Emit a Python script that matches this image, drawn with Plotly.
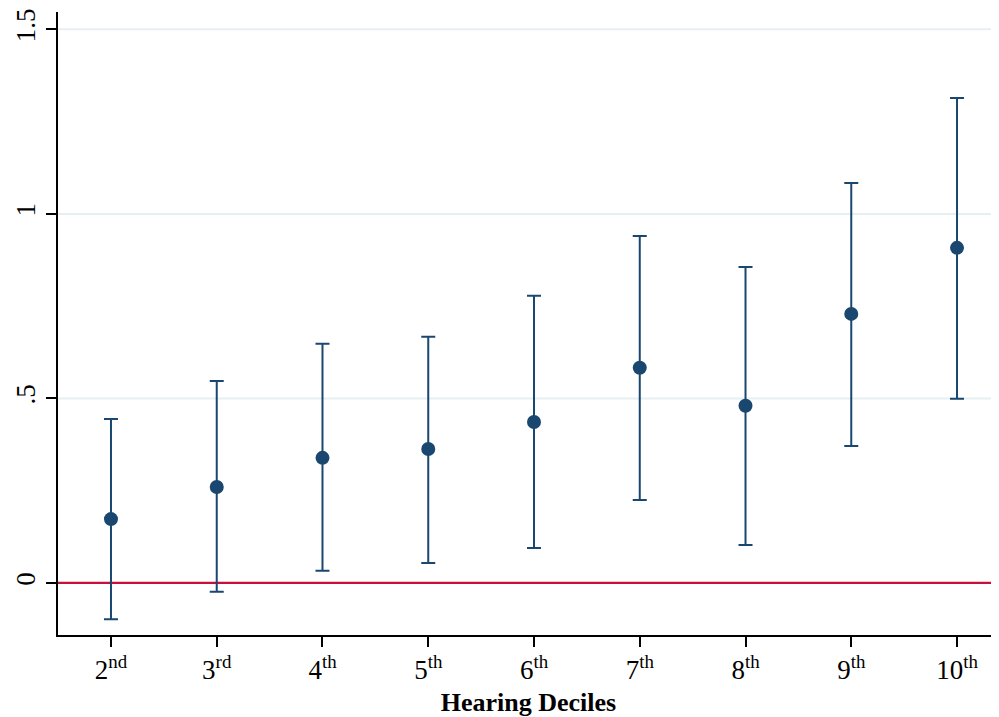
import plotly.graph_objects as go

# Data
deciles = [2, 3, 4, 5, 6, 7, 8, 9, 10]
tick_labels = ["2<sup>nd</sup>", "3<sup>rd</sup>", "4<sup>th</sup>", "5<sup>th</sup>",
               "6<sup>th</sup>", "7<sup>th</sup>", "8<sup>th</sup>", "9<sup>th</sup>",
               "10<sup>th</sup>"]
estimate = [0.173, 0.260, 0.339, 0.363, 0.436, 0.583, 0.480, 0.729, 0.908]
upper = [0.444, 0.547, 0.648, 0.667, 0.778, 0.940, 0.856, 1.084, 1.314]
lower = [-0.098, -0.024, 0.033, 0.054, 0.095, 0.225, 0.103, 0.371, 0.499]
y_ticks = [0, 0.5, 1, 1.5]
y_tick_labels = ["0", ".5", "1", "1.5"]

navy = "#1a476f"
fig = go.Figure()

# light gridlines (drawn as shapes so the red zero line can sit above them)
for yv in y_ticks[1:]:
    fig.add_hline(y=yv, line=dict(color="#e6eff1", width=2), layer="below")
fig.add_hline(y=0, line=dict(color="#c8103f", width=2.2), layer="below")

fig.add_trace(go.Scatter(
    x=deciles, y=estimate, mode="markers",
    marker=dict(color=navy, size=14),
    error_y=dict(type="data", symmetric=False,
                 array=[u - e for u, e in zip(upper, estimate)],
                 arrayminus=[e - l for e, l in zip(estimate, lower)],
                 color=navy, thickness=2, width=7),
    showlegend=False,
))

font_family = "Liberation Serif, Times New Roman, serif"
# page body has an 8px default margin; figure size/margins compensate for it
fig.update_layout(
    width=991, height=709,
    margin=dict(l=50, r=0, t=4, b=82),
    paper_bgcolor="white", plot_bgcolor="white",
    font=dict(family=font_family, color="black", size=27),
    xaxis=dict(
        range=[1.499, 10.397], tickvals=deciles, ticktext=tick_labels,
        showgrid=False, zeroline=False, automargin=False,
        showline=True, linecolor="black", linewidth=2,
        ticks="outside", ticklen=10, tickwidth=1.5, tickcolor="black",
        tickfont=dict(size=27),
        title=dict(text="<b>Hearing Deciles</b>", font=dict(size=26), standoff=9),
    ),
    yaxis=dict(
        range=[-0.141, 1.547], tickvals=y_ticks, ticktext=y_tick_labels,
        tickangle=-90, automargin=False,
        showgrid=False, zeroline=False,
        showline=True, linecolor="black", linewidth=2,
        ticks="outside", ticklen=10, tickwidth=1.5, tickcolor="black",
        tickfont=dict(size=27),
    ),
)

fig.write_html("out.html")
